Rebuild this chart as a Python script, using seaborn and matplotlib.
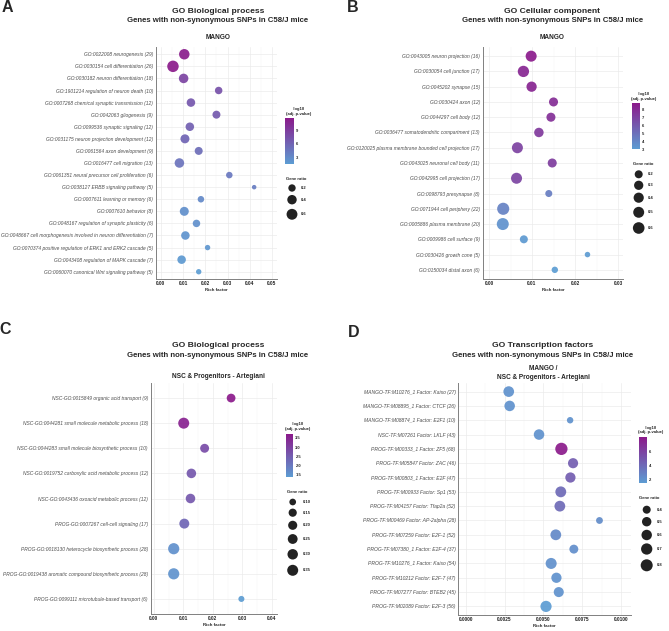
import numpy as np
import pandas as pd
import matplotlib
matplotlib.use("Agg")
import matplotlib.pyplot as plt
from matplotlib.colors import LinearSegmentedColormap, Normalize
from matplotlib.cm import ScalarMappable
from matplotlib.ticker import MultipleLocator
import seaborn as sns

# ---------------- 数据 ----------------
# A: GO Biological process - MANGO
a_terms = [
    "GO:0022008 neurogenesis (29)",
    "GO:0030154 cell differentiation (26)",
    "GO:0030182 neuron differentiation (18)",
    "GO:1901214 regulation of neuron death (10)",
    "GO:0007268 chemical synaptic transmission (12)",
    "GO:0042063 gliogenesis (9)",
    "GO:0099536 synaptic signaling (12)",
    "GO:0031175 neuron projection development (12)",
    "GO:0061564 axon development (9)",
    "GO:0016477 cell migration (13)",
    "GO:0061351 neural precursor cell proliferation (6)",
    "GO:0038127 ERBB signaling pathway (5)",
    "GO:0007611 learning or memory (6)",
    "GO:0007610 behavior (8)",
    "GO:0048167 regulation of synaptic plasticity (6)",
    "GO:0048667 cell morphogenesis involved in neuron differentiation (7)",
    "GO:0070374 positive regulation of ERK1 and ERK2 cascade (5)",
    "GO:0043408 regulation of MAPK cascade (7)",
    "GO:0060070 canonical Wnt signaling pathway (5)",
]
a_rich = [0.0105, 0.0054, 0.0102, 0.026, 0.0135, 0.025, 0.013, 0.0108, 0.017, 0.0083,
          0.0308, 0.042, 0.018, 0.0105, 0.016, 0.011, 0.021, 0.0093, 0.017]
a_ratio = [0.54, 0.70, 0.41, 0.21, 0.30, 0.25, 0.30, 0.35, 0.25, 0.41,
           0.15, 0.10, 0.15, 0.35, 0.21, 0.30, 0.11, 0.30, 0.11]
a_logp = [11.5, 11.8, 8.5, 7.5, 7.0, 6.8, 6.3, 6.0, 5.3, 4.8,
          4.4, 4.0, 3.0, 2.6, 2.5, 2.2, 2.0, 1.8, 1.45]
a_xticks = [0.00, 0.01, 0.02, 0.03, 0.04, 0.05]
a_cticks = [3, 6, 9]
a_sticks = [0.2, 0.4, 0.6]

# B: GO Cellular component - MANGO
b_terms = [
    "GO:0043005 neuron projection (16)",
    "GO:0030054 cell junction (17)",
    "GO:0045202 synapse (15)",
    "GO:0030424 axon (12)",
    "GO:0044297 cell body (12)",
    "GO:0036477 somatodendritic compartment (13)",
    "GO:0120025 plasma membrane bounded cell projection (17)",
    "GO:0043025 neuronal cell body (11)",
    "GO:0042995 cell projection (17)",
    "GO:0098793 presynapse (8)",
    "GO:0071944 cell periphery (22)",
    "GO:0005886 plasma membrane (20)",
    "GO:0009986 cell surface (9)",
    "GO:0030426 growth cone (5)",
    "GO:0150034 distal axon (6)",
]
b_rich = [0.0098, 0.008, 0.0099, 0.015, 0.0144, 0.0116, 0.0066, 0.0147, 0.0064, 0.0139,
          0.0033, 0.0032, 0.0081, 0.0229, 0.0153]
b_ratio = [0.51, 0.55, 0.41, 0.28, 0.28, 0.32, 0.51, 0.28, 0.51, 0.15,
           0.68, 0.66, 0.20, 0.12, 0.13]
b_logp = [8.7, 8.2, 8.3, 7.9, 7.8, 7.4, 7.0, 7.2, 6.9, 4.4,
          4.2, 3.5, 3.2, 3.1, 3.0]
b_xticks = [0.00, 0.01, 0.02, 0.03]
b_cticks = [3, 4, 5, 6, 7, 8]
b_sticks = [0.2, 0.3, 0.4, 0.5, 0.6]

# C: GO Biological process - NSC & Progenitors
c_terms = [
    "NSC-GO:0015849 organic acid transport (9)",
    "NSC-GO:0044281 small molecule metabolic process (18)",
    "NSC-GO:0044283 small molecule biosynthetic process (10)",
    "NSC-GO:0019752 carboxylic acid metabolic process (12)",
    "NSC-GO:0043436 oxoacid metabolic process (12)",
    "PROG-GO:0007267 cell-cell signaling (17)",
    "PROG-GO:0018130 heterocycle biosynthetic process (28)",
    "PROG-GO:0019438 aromatic compound biosynthetic process (28)",
    "PROG-GO:0099111 microtubule-based transport (6)",
]
c_rich = [0.0262, 0.0101, 0.0172, 0.0127, 0.0124, 0.0103, 0.0067, 0.0067, 0.0297]
c_ratio = [0.18, 0.35, 0.19, 0.23, 0.23, 0.26, 0.37, 0.37, 0.09]
c_logp = [3.7, 3.55, 2.8, 2.6, 2.6, 2.35, 1.6, 1.55, 1.38]
c_xticks = [0.00, 0.01, 0.02, 0.03, 0.04]
c_cticks = [1.5, 2.0, 2.5, 3.0, 3.5]
c_sticks = [0.10, 0.15, 0.20, 0.25, 0.30, 0.35]

# D: GO Transcription factors
d_terms = [
    "MANGO-TF:M10276_1 Factor: Kaiso (27)",
    "MANGO-TF:M08895_1 Factor: CTCF (26)",
    "MANGO-TF:M08874_1 Factor: E2F1 (10)",
    "NSC-TF:M07261 Factor: LKLF (43)",
    "PROG-TF:M00333_1 Factor: ZF5 (68)",
    "PROG-TF:M05847 Factor: ZAC (46)",
    "PROG-TF:M00803_1 Factor: E2F (47)",
    "PROG-TF:M00933 Factor: Sp1 (53)",
    "PROG-TF:M04157 Factor: Tfap2a (52)",
    "PROG-TF:M00469 Factor: AP-2alpha (28)",
    "PROG-TF:M07259 Factor: E2F-1 (52)",
    "PROG-TF:M07380_1 Factor: E2F-4 (37)",
    "PROG-TF:M10276_1 Factor: Kaiso (54)",
    "PROG-TF:M10212 Factor: E2F-7 (47)",
    "PROG-TF:M07277 Factor: BTEB2 (45)",
    "PROG-TF:M02089 Factor: E2F-3 (56)",
]
d_rich = [0.00277, 0.00283, 0.00672, 0.00472, 0.00616, 0.00691, 0.00674, 0.00612,
          0.00606, 0.00861, 0.0058, 0.00696, 0.0055, 0.00584, 0.00599, 0.00517]
d_ratio = [0.63, 0.61, 0.34, 0.61, 0.84, 0.57, 0.58, 0.65,
           0.64, 0.35, 0.64, 0.46, 0.67, 0.58, 0.56, 0.69]
d_logp = [2.0, 2.0, 2.0, 2.0, 7.95, 4.6, 4.6, 4.0,
          4.0, 2.3, 2.4, 2.2, 2.1, 2.0, 2.0, 1.45]
d_xticks = [0.0, 0.0025, 0.005, 0.0075, 0.01]
d_cticks = [2, 4, 6]
d_sticks = [0.4, 0.5, 0.6, 0.7, 0.8]

# ---------------- 样式 ----------------
W, H = 669, 631
sns.set_style("white")
plt.rcParams["font.family"] = ["Liberation Sans", "DejaVu Sans"]

cmap = LinearSegmentedColormap.from_list("bp", ["#5C9DD3", "#8B1A8B"])
fig = plt.figure(figsize=(W / 100, H / 100), dpi=100)

lax = fig.add_axes([0, 0, 1, 1])
lax.set_xlim(0, W)
lax.set_ylim(H, 0)
lax.axis("off")


def rect(l, t, r, b):
    return [l / W, 1 - b / H, (r - l) / W, (b - t) / H]


def area(g, sz):
    d0, c, g0 = sz
    d = d0 + c * np.sqrt(np.clip(np.asarray(g, dtype=float) - g0, 0, None))
    return (0.72 * d) ** 2


def panel(terms, rich, ratio, logp, xticks, xfmt, box, xlim, vlim, sz, ylab_size):
    df = pd.DataFrame({"term": terms, "rich": rich, "ratio": ratio, "logp": logp})
    df["s"] = area(df["ratio"], sz)
    ax = fig.add_axes(rect(*box))
    lo, hi = df["s"].min(), df["s"].max()
    sns.scatterplot(data=df, x="rich", y="term", hue="logp", palette=cmap, hue_norm=vlim,
                    size="s", sizes=(lo, hi), size_norm=(lo, hi),
                    linewidth=0, alpha=0.92, legend=False, ax=ax, zorder=3)
    n = len(terms)
    ax.set_ylim(n - 0.4, -0.6)
    ax.set_yticks(range(n))
    ax.set_yticklabels(terms, fontstyle="italic")
    ax.set_xlim(*xlim)
    ax.set_xticks(xticks)
    ax.set_xticklabels([xfmt % v for v in xticks], fontweight="bold")
    ax.xaxis.set_minor_locator(MultipleLocator((xticks[1] - xticks[0]) / 2))
    ax.grid(which="major", color="#EBEBEB", lw=0.5)
    ax.grid(which="minor", axis="x", color="#F3F3F3", lw=0.35)
    ax.set_axisbelow(True)
    for s in ["top", "right"]:
        ax.spines[s].set_visible(False)
    for s in ["left", "bottom"]:
        ax.spines[s].set_color("#808080")
        ax.spines[s].set_linewidth(0.7)
    ax.tick_params(axis="y", length=0, pad=2, labelsize=ylab_size, labelcolor="#4D4D4D")
    ax.tick_params(axis="x", which="both", length=0, pad=1.5, labelsize=3.4, labelcolor="#222222")
    ax.set_ylabel("")
    ax.set_xlabel("Rich factor", fontsize=3.2, fontweight="bold", labelpad=1.5)
    return ax


def colorbar(box, vlim, ticks, fmt, title_xy):
    cax = fig.add_axes(rect(*box))
    cb = fig.colorbar(ScalarMappable(Normalize(*vlim), cmap), cax=cax)
    cb.outline.set_visible(False)
    cb.set_ticks(ticks)
    cb.set_ticklabels([fmt % t for t in ticks])
    cax.tick_params(direction="in", length=1.6, width=0.4, color="white",
                    labelsize=3.0, pad=1.5, left=True, right=True)
    for lab in cax.get_yticklabels():
        lab.set_fontweight("bold")
    tx, ty = title_xy
    lax.text(tx, ty, "-log10", ha="center", va="center", fontsize=3.0, fontweight="bold")
    lax.text(tx, ty + 4.6, "(adj. p-value)", ha="center", va="center", fontsize=3.0, fontweight="bold")


def size_legend(title_xy, cx, lx, ys, vals, sz, fmt):
    tx, ty = title_xy
    lax.text(tx, ty, "Gene ratio", ha="left", va="center", fontsize=3.0, fontweight="bold")
    lax.scatter([cx] * len(ys), ys, s=area(vals, sz), color="#222222", linewidth=0)
    for y, v in zip(ys, vals):
        lax.text(lx, y, fmt % v, ha="left", va="center", fontsize=3.0, fontweight="bold")


def titles(cx, lines, ys, sub, sub_ys, letter, letter_xy):
    for t, y, fs in zip(lines, ys, [6.1, 5.6]):
        lax.text(cx, y, t, ha="center", va="center", fontsize=fs, fontweight="bold")
    for t, y in zip(sub, sub_ys):
        lax.text(cx, y, t, ha="center", va="center", fontsize=4.7, fontweight="bold")
    lax.text(*letter_xy, letter, ha="center", va="center", fontsize=11.5, fontweight="bold")


# 尺寸映射 (d0 px, 系数, g0)
a_sz = (4.5, 9.0, 0.10)
b_sz = (5.5, 8.84, 0.12)
c_sz = (5.5, 10.73, 0.0875)
d_sz = (5.5, 9.49, 0.33)

a_v, b_v, c_v, d_v = (1.45, 11.85), (3.0, 8.75), (1.36, 3.7), (1.42, 7.98)

sub_line = "Genes with non-synonymous SNPs in C58/J mice"

# A
panel(a_terms, a_rich, a_ratio, a_logp, a_xticks, "%.2f", (156, 47, 277, 279),
      (-0.00225, 0.0523), a_v, a_sz, 3.5)
titles(218, ["GO Biological process", sub_line], [11.2, 20.3], ["MANGO"], [37.7], "A", (7, 8))
colorbar((285, 118, 294, 164), a_v, a_cticks, "%d", (299, 109))
size_legend((286, 179), 292, 301, [188, 199.7, 214.3], a_sticks, a_sz, "%.1f")

# B
panel(b_terms, b_rich, b_ratio, b_logp, b_xticks, "%.2f", (482.7, 47, 623, 279),
      (-0.00147, 0.03116), b_v, b_sz, 3.5)
titles(552.5, ["GO Cellular component", sub_line], [11.2, 20.3], ["MANGO"], [37.7], "B", (353, 8))
colorbar((632, 103.3, 640, 149.3), b_v, b_cticks, "%d", (644, 94))
size_legend((632.7, 164.3), 638.7, 648.3, [174.3, 185.3, 197.7, 212.3, 228], b_sticks, b_sz, "%.1f")

# C
panel(c_terms, c_rich, c_ratio, c_logp, c_xticks, "%.2f", (150.7, 383, 277, 614),
      (-0.00112, 0.0418), c_v, c_sz, 3.5)
titles(218, ["GO Biological process", sub_line], [345.5, 355.5],
       ["NSC & Progenitors - Artegiani"], [376], "C", (5.5, 330))
colorbar((285.7, 434.3, 293.3, 477.3), c_v, c_cticks, "%.1f", (298, 424.5))
size_legend((287, 492.3), 292.7, 302.7, [502, 512.7, 525.3, 539, 554.3, 570.3], c_sticks, c_sz, "%.2f")

# D
panel(d_terms, d_rich, d_ratio, d_logp, d_xticks, "%.4f", (458.3, 383, 630.7, 615),
      (-0.000476, 0.01062), d_v, d_sz, 3.6)
titles(543, ["GO Transcription factors", sub_line], [345.5, 355.5],
       ["MANGO /", "NSC & Progenitors - Artegiani"], [368.7, 377.5], "D", (353.3, 332.3))
colorbar((639, 437.3, 647, 483.3), d_v, d_cticks, "%d", (651, 427.5))
size_legend((639, 498.3), 646.7, 656.7, [509.7, 521.7, 535, 549, 565.3], d_sticks, d_sz, "%.1f")

fig.savefig("out.png", dpi=100)
